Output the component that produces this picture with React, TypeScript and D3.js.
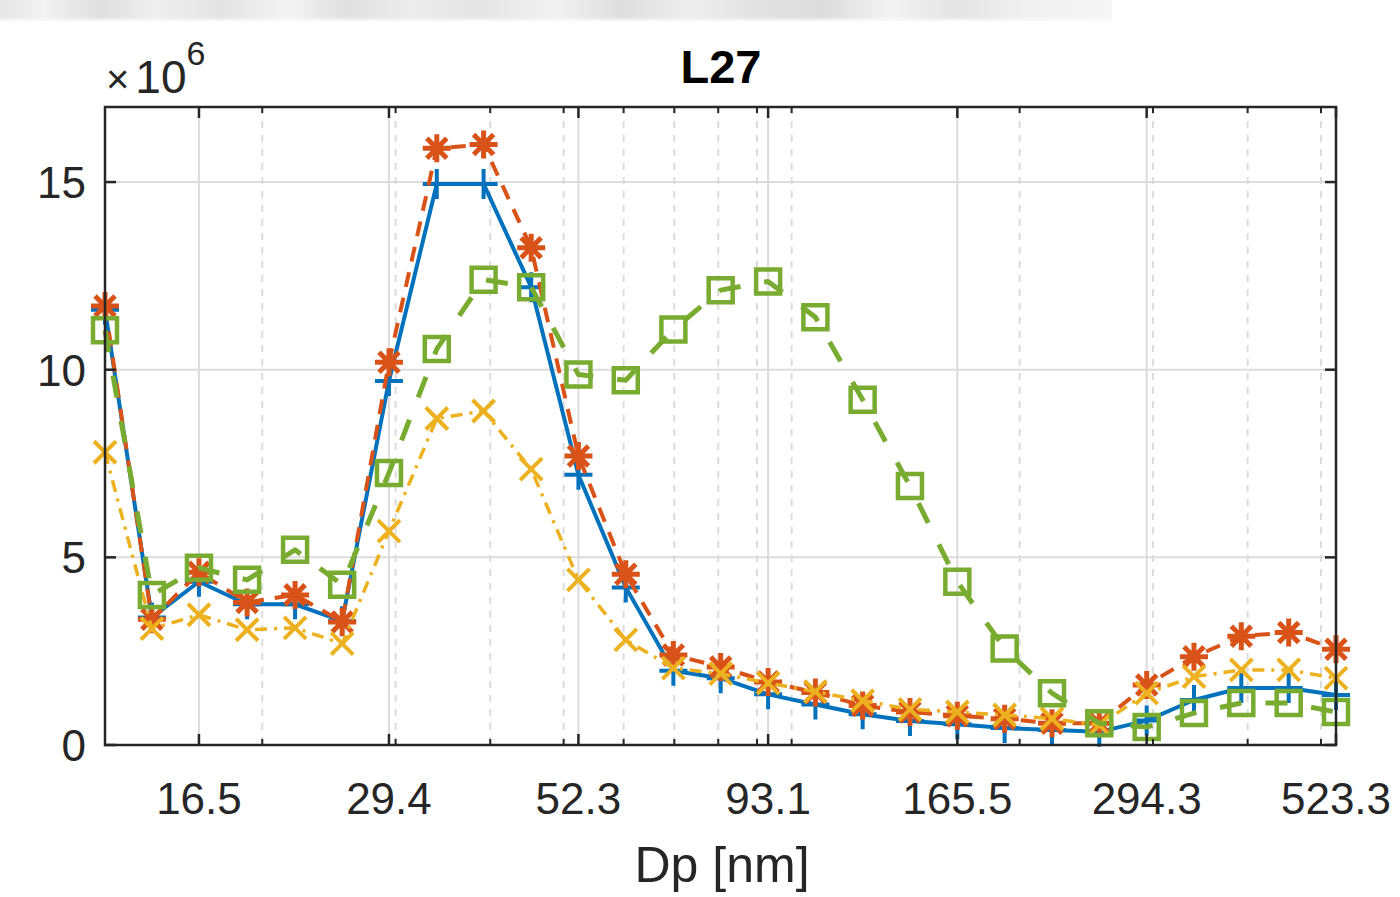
import React from 'react';
import * as d3 from 'd3';

// Particle diameter channels [nm]
const dp = [12.4, 14.3, 16.5, 19.1, 22.1, 25.5, 29.4, 34.0, 39.2, 45.3, 52.3, 60.4, 69.8, 80.6, 93.1, 107.5, 124.1, 143.3, 165.5, 191.1, 220.7, 254.8, 294.3, 339.8, 392.4, 453.2, 523.3];

// Values in units of 1e6
const seriesBlue = [11.6, 3.4, 4.35, 3.75, 3.75, 3.3, 9.7, 14.95, 14.95, 12.2, 7.2, 4.2, 1.98, 1.78, 1.35, 1.08, 0.82, 0.64, 0.55, 0.45, 0.4, 0.35, 0.65, 1.2, 1.52, 1.52, 1.33];
const seriesOrange = [11.7, 3.35, 4.6, 3.8, 4.0, 3.28, 10.2, 15.9, 16.0, 13.25, 7.7, 4.55, 2.4, 2.08, 1.68, 1.4, 1.05, 0.88, 0.78, 0.7, 0.58, 0.58, 1.6, 2.35, 2.9, 3.0, 2.55];
const seriesYellow = [7.8, 3.1, 3.47, 3.07, 3.12, 2.7, 5.7, 8.7, 8.9, 7.35, 4.4, 2.8, 2.05, 1.9, 1.65, 1.42, 1.18, 0.95, 0.88, 0.8, 0.7, 0.53, 1.38, 1.82, 2.0, 2.0, 1.78];
const seriesGreen = [11.05, 4.0, 4.72, 4.4, 5.2, 4.27, 7.25, 10.55, 12.4, 12.2, 9.87, 9.72, 11.07, 12.12, 12.35, 11.4, 9.2, 6.9, 4.35, 2.57, 1.38, 0.58, 0.48, 0.85, 1.12, 1.12, 0.88];

const xTickValues = [16.5, 29.4, 52.3, 93.1, 165.5, 294.3, 523.3];
const xTickLabels = ['16.5', '29.4', '52.3', '93.1', '165.5', '294.3', '523.3'];
const xMinorValues = [20, 30, 40, 50, 60, 70, 80, 90, 100, 200, 300, 400, 500];
const yTickValues = [0, 5, 10, 15];
const yTickLabels = ['0', '5', '10', '15'];

const titleText = 'L27';
const xLabelText = 'Dp [nm]';

type Marker = 'plus' | 'star' | 'cross' | 'square';
const seriesDefs: { values: number[]; color: string; dash: string; width: number; marker: Marker; mw: number }[] = [
  { values: seriesBlue, color: '#0072BD', dash: '', width: 4, marker: 'plus', mw: 4 },
  { values: seriesOrange, color: '#D95319', dash: '15 11', width: 4, marker: 'star', mw: 5 },
  { values: seriesYellow, color: '#EDB120', dash: '12 7 3 7', width: 3.5, marker: 'cross', mw: 4 },
  { values: seriesGreen, color: '#77AC30', dash: '22 24', width: 5, marker: 'square', mw: 4.5 },
];

const L = 105, R = 1336, T = 107, B = 745;
const FONT = '"Liberation Sans", Arial, Helvetica, sans-serif';

function markerPath(m: Marker): string {
  if (m === 'plus') return 'M-14,0H14M0,-15V15';
  if (m === 'cross') return 'M-11,-11L11,11M-11,11L11,-11';
  if (m === 'star') {
    const r = 14, d = 10;
    return `M-${r},0H${r}M0,-${r}V${r}M-${d},-${d}L${d},${d}M-${d},${d}L${d},-${d}`;
  }
  return 'M-12,-12H12V12H-12Z';
}

export default function App() {
  const x = d3.scaleLog().domain([dp[0], dp[dp.length - 1]]).range([L, R]);
  const y = d3.scaleLinear().domain([0, 17]).range([B, T]);
  const line = d3.line<number>().x((_, i) => x(dp[i])).y((v) => y(v));
  const gridColor = '#dcdcdc';
  const axisColor = '#262626';

  const stripStops = [0, 0.04, 0.09, 0.14, 0.2, 0.26, 0.31, 0.37, 0.43, 0.5, 0.56, 0.62, 0.68, 0.74, 0.8, 0.86, 0.92, 1];
  const stripColors = ['#e6e6e6', '#f2f2f2', '#dfdfdf', '#efefef', '#e3e3e3', '#f4f4f4', '#e0e0e0', '#ececec', '#e5e5e5', '#f1f1f1', '#dedede', '#eeeeee', '#e2e2e2', '#dcdcdc', '#f3f3f3', '#e4e4e4', '#f0f0f0', '#f6f6f6'];

  return (
    <svg width={1400} height={897} style={{ position: 'absolute', left: 0, top: 0, background: '#fff' }}>
      <defs>
        <linearGradient id="strip" x1="0" x2="1" y1="0" y2="0">
          {stripStops.map((s, i) => (
            <stop key={i} offset={s} stopColor={stripColors[i]} />
          ))}
        </linearGradient>
        <linearGradient id="stripFade" x1="0" x2="0" y1="0" y2="1">
          <stop offset="0" stopColor="#fff" stopOpacity={0} />
          <stop offset="0.8" stopColor="#fff" stopOpacity={0} />
          <stop offset="1" stopColor="#fff" stopOpacity={0.7} />
        </linearGradient>
      </defs>
      <rect x={0} y={0} width={1400} height={897} fill="#fff" />
      <rect x={0} y={0} width={1112} height={21} fill="url(#strip)" />
      <rect x={0} y={0} width={1112} height={21} fill="url(#stripFade)" />

      {/* grid */}
      {xMinorValues.map((v) => (
        <line key={'mg' + v} x1={x(v)} x2={x(v)} y1={T} y2={B} stroke={gridColor} strokeWidth={2} strokeDasharray="7 7" />
      ))}
      {xTickValues.map((v) => (
        <line key={'g' + v} x1={x(v)} x2={x(v)} y1={T} y2={B} stroke={gridColor} strokeWidth={2} />
      ))}
      {yTickValues.map((v) => (
        <line key={'gy' + v} x1={L} x2={R} y1={y(v)} y2={y(v)} stroke={gridColor} strokeWidth={2} />
      ))}

      {/* series */}
      {seriesDefs.map((s, si) => (
        <g key={si}>
          <path d={line(s.values) || ''} fill="none" stroke={s.color} strokeWidth={s.width} strokeDasharray={s.dash || undefined} strokeLinejoin="round" />
          {s.values.map((v, i) => (
            <path key={i} transform={`translate(${x(dp[i])},${y(v)})`} d={markerPath(s.marker)} fill="none" stroke={s.color} strokeWidth={s.mw} />
          ))}
        </g>
      ))}

      {/* axes box */}
      <rect x={L} y={T} width={R - L} height={B - T} fill="none" stroke={axisColor} strokeWidth={2.5} />
      {xTickValues.map((v) => (
        <g key={'t' + v}>
          <line x1={x(v)} x2={x(v)} y1={B} y2={B - 11} stroke={axisColor} strokeWidth={2.5} />
          <line x1={x(v)} x2={x(v)} y1={T} y2={T + 11} stroke={axisColor} strokeWidth={2.5} />
        </g>
      ))}
      {xMinorValues.map((v) => (
        <g key={'mt' + v}>
          <line x1={x(v)} x2={x(v)} y1={B} y2={B - 6} stroke={axisColor} strokeWidth={2} />
          <line x1={x(v)} x2={x(v)} y1={T} y2={T + 6} stroke={axisColor} strokeWidth={2} />
        </g>
      ))}
      {yTickValues.map((v) => (
        <g key={'yt' + v}>
          <line x1={L} x2={L + 11} y1={y(v)} y2={y(v)} stroke={axisColor} strokeWidth={2.5} />
          <line x1={R} x2={R - 11} y1={y(v)} y2={y(v)} stroke={axisColor} strokeWidth={2.5} />
        </g>
      ))}

      {/* tick labels */}
      {xTickValues.map((v, i) => (
        <text key={'xl' + v} x={x(v)} y={814} textAnchor="middle" fontFamily={FONT} fontSize={44} fill={axisColor}>
          {xTickLabels[i]}
        </text>
      ))}
      {yTickValues.map((v, i) => (
        <text key={'yl' + v} x={86} y={y(v) + 16} textAnchor="end" fontFamily={FONT} fontSize={44} fill={axisColor}>
          {yTickLabels[i]}
        </text>
      ))}

      {/* exponent */}
      <text x={106} y={93} fontFamily={FONT} fontSize={46} fill={axisColor}>
        <tspan fontSize={40}>×</tspan>
        <tspan dx={6}>10</tspan>
        <tspan dy={-28} fontSize={34}>6</tspan>
      </text>

      {/* title & label */}
      <text x={721} y={83} textAnchor="middle" fontFamily={FONT} fontSize={47} fontWeight="bold" fill="#000">
        {titleText}
      </text>
      <text x={722} y={882} textAnchor="middle" fontFamily={FONT} fontSize={50} fill={axisColor}>
        {xLabelText}
      </text>
    </svg>
  );
}
